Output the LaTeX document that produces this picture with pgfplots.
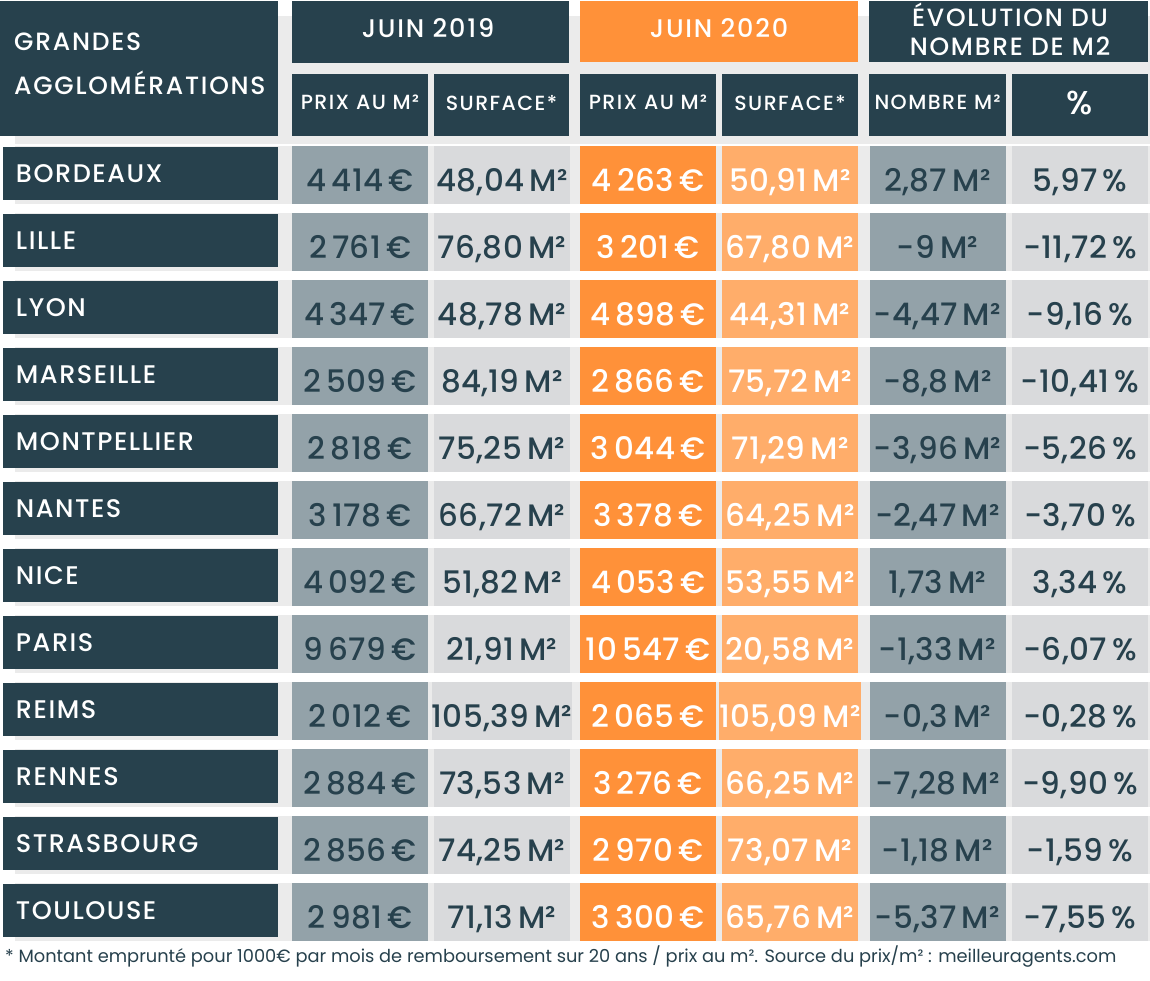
\documentclass[border=0pt]{standalone}
\usepackage{pgfplots}
\pgfplotsset{compat=1.18}
\usepackage{pgfplotstable}
\usepackage{fontspec}
\setmainfont{Poppins}
\newfontfamily\pmed{Poppins Medium}[LetterSpace=1]
\newfontfamily\pcity{Poppins Medium}[LetterSpace=6]
\newfontfamily\phead{Poppins Medium}[LetterSpace=7]
\definecolor{dark}{HTML}{27414D}
\definecolor{slate}{HTML}{93A2A9}
\definecolor{lgray}{HTML}{D9DADC}
\definecolor{orng}{HTML}{FF9139}
\definecolor{lorng}{HTML}{FFAD6A}
\definecolor{bg}{HTML}{EBEBEB}

\pgfplotstableread[col sep=semicolon]{
i;city;p19;s19;p20;s20;nb;pct
0;BORDEAUX;4\,414;48,04;4\,263;50,91;2,87;5,97
1;LILLE;2\,761;76,80;3\,201;67,80;-9;-11,72
2;LYON;4\,347;48,78;4\,898;44,31;-4,47;-9,16
3;MARSEILLE;2\,509;84,19;2\,866;75,72;-8,8;-10,41
4;MONTPELLIER;2\,818;75,25;3\,044;71,29;-3,96;-5,26
5;NANTES;3\,178;66,72;3\,378;64,25;-2,47;-3,70
6;NICE;4\,092;51,82;4\,053;53,55;1,73;3,34
7;PARIS;9\,679;21,91;10\,547;20,58;-1,33;-6,07
8;REIMS;2\,012;105,39;2\,065;105,09;-0,3;-0,28
9;RENNES;2\,884;73,53;3\,276;66,25;-7,28;-9,90
10;STRASBOURG;2\,856;74,25;2\,970;73,07;-1,18;-1,59
11;TOULOUSE;2\,981;71,13;3\,300;65,76;-5,37;-7,55
}\data

\pgfplotsset{
  cellplot/.style={draw=none, mark=none, nodes near coords, point meta=explicit symbolic,
    every node near coord/.append style={anchor=center, inner sep=0pt, outer sep=0pt,
      minimum width=136pt, minimum height=58pt, text height=27pt, text depth=0pt,
      font=\pmed\fontsize{31}{33}\selectfont}},
}
\newcommand\subhead[3]{%
  \fill[dark] (axis cs:#1,73) rectangle (axis cs:#2,135);
  \node[text=white, font=\phead\fontsize{20.5}{22}\selectfont] at (axis cs:{(#1+#2)/2},102) {#3};}

\begin{document}
\begin{tikzpicture}
\begin{axis}[
  width=1150pt, height=980pt, scale only axis,
  xmin=0, xmax=1150, ymin=0, ymax=980, y dir=reverse,
  axis lines=none, ticks=none, clip=false, enlargelimits=false,
]
\fill[white] (axis cs:0,0) rectangle (axis cs:1150,980);
\fill[bg] (axis cs:15,15) rectangle (axis cs:1150,143);
\pgfplotsinvokeforeach{0,...,11}{\fill[bg] (axis cs:15,{145+67*#1}) rectangle (axis cs:1150,{203+67*#1});}
% headers
\fill[dark] (axis cs:0,0) rectangle (axis cs:278,135);
\node[anchor=west, inner sep=0pt, text=white, align=left, font=\phead\fontsize{25}{44}\selectfont] at (axis cs:14,63) {GRANDES\\AGGLOMÉRATIONS};
\fill[dark] (axis cs:292,0) rectangle (axis cs:569,62);
\node[text=white, font=\phead\fontsize{25.5}{28}\selectfont] at (axis cs:428,27) {JUIN 2019};
\fill[orng] (axis cs:580,0) rectangle (axis cs:858,61);
\node[text=white, font=\phead\fontsize{25.5}{28}\selectfont] at (axis cs:719,27) {JUIN 2020};
\fill[dark] (axis cs:869,0) rectangle (axis cs:1148,61);
\node[text=white, align=center, font=\phead\fontsize{25}{29}\selectfont] at (axis cs:1010,29) {ÉVOLUTION DU\\NOMBRE DE M2};
\subhead{292}{428}{PRIX AU M²}
\subhead{434}{569}{SURFACE*}
\subhead{580}{716}{PRIX AU M²}
\subhead{722}{858}{SURFACE*}
\subhead{869}{1006}{NOMBRE M²}
\fill[dark] (axis cs:1012,73) rectangle (axis cs:1148,135);
\node[text=white, font=\phead\fontsize{33}{35}\selectfont] at (axis cs:1080,102) {\%};
% city column
\addplot[draw=none, mark=none, nodes near coords, point meta=explicit symbolic,
  every node near coord/.append style={anchor=center, fill=dark, text=white, inner xsep=13pt, inner ysep=0pt,
    text width=249pt, align=left, minimum height=53pt, text height=18pt, text depth=0pt,
    font=\pcity\fontsize{25.5}{27}\selectfont}]
  table[x expr=140.5, y expr=172.5+67*\thisrow{i}, meta=city] {\data};
% value columns
\addplot[cellplot, nodes near coords={\raisebox{-3pt}{\pgfplotspointmeta\,€}}, every node near coord/.append style={fill=slate, text=dark}]
  table[x expr=360, y expr=174+67*\thisrow{i}, meta=p19] {\data};
\addplot[cellplot, nodes near coords={\raisebox{-3pt}{\pgfplotspointmeta\,M²}}, every node near coord/.append style={fill=lgray, text=dark}]
  table[x expr=502, y expr=174+67*\thisrow{i}, meta=s19] {\data};
\addplot[cellplot, nodes near coords={\raisebox{-3pt}{\pgfplotspointmeta\,€}}, every node near coord/.append style={fill=orng, text=white}]
  table[x expr=648, y expr=174+67*\thisrow{i}, meta=p20] {\data};
\addplot[cellplot, nodes near coords={\raisebox{-3pt}{\pgfplotspointmeta\,M²}}, every node near coord/.append style={fill=lorng, text=white}]
  table[x expr=790, y expr=174+67*\thisrow{i}, meta=s20] {\data};
\addplot[cellplot, nodes near coords={\raisebox{-3pt}{\pgfplotspointmeta\,M²}}, every node near coord/.append style={fill=slate, text=dark}]
  table[x expr=937.5, y expr=174+67*\thisrow{i}, meta=nb] {\data};
\addplot[cellplot, nodes near coords={\raisebox{-3pt}{\pgfplotspointmeta\,\%}}, every node near coord/.append style={fill=lgray, text=dark}]
  table[x expr=1080, y expr=174+67*\thisrow{i}, meta=pct] {\data};
% footnote
\node[anchor=west, inner sep=0pt, text=dark, font=\fontsize{17.8}{20}\selectfont] at (axis cs:5,956) {* Montant emprunté pour 1000€ par mois de remboursement sur 20 ans / prix au m². Source du prix/m² : meilleuragents.com};
\end{axis}
\end{tikzpicture}
\end{document}
